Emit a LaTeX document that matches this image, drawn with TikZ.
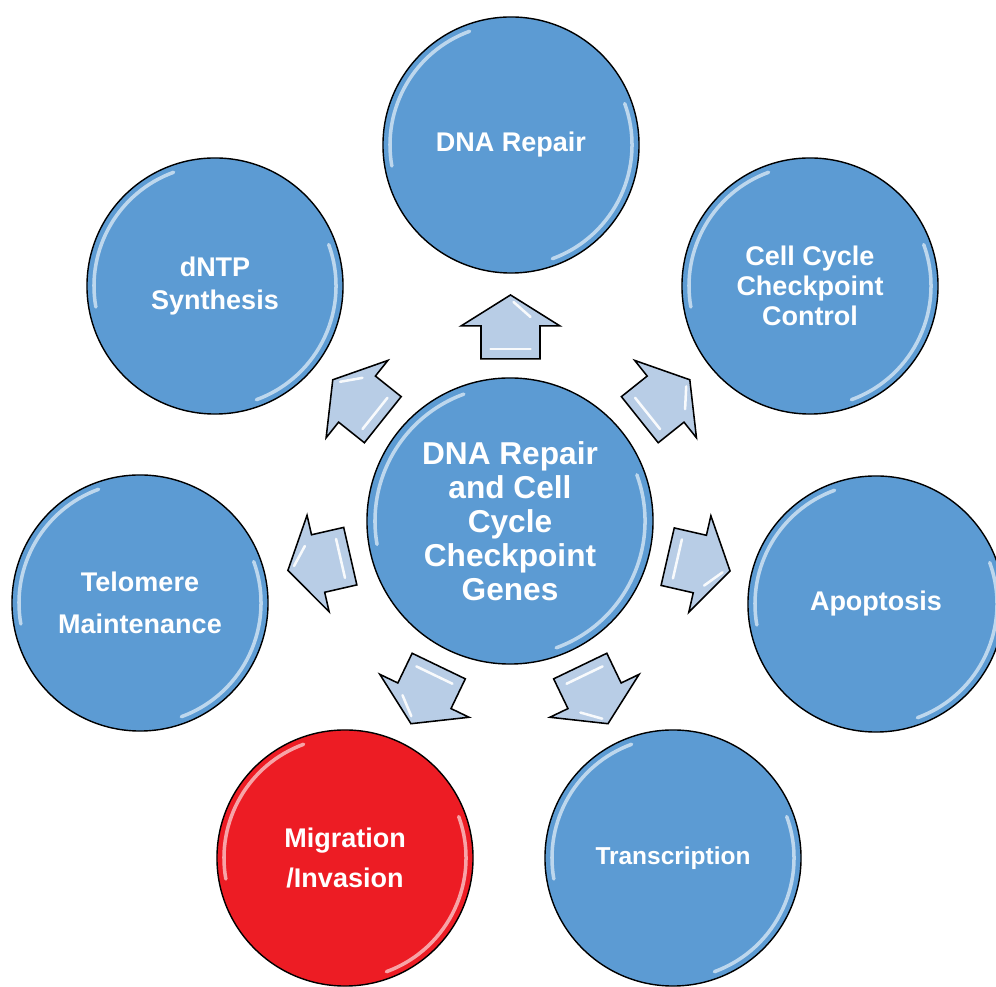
\documentclass[tikz,border=0pt]{standalone}
\usepackage{fontspec}
\setmainfont{Liberation Sans}
\usetikzlibrary{calc}

\definecolor{ballblue}{RGB}{92,155,211}
\definecolor{ballred}{RGB}{237,28,36}
\definecolor{arrowblue}{RGB}{184,205,230}

\tikzset{
  ball/.style={circle, draw=black, line width=1pt, fill=ballblue, text=white,
    font=\bfseries\fontsize{19.2}{22}\selectfont, align=center,
    minimum size=6.4cm, inner sep=0pt},
  hubball/.style={ball, minimum size=7.15cm, font=\bfseries\fontsize{22.5}{24.2}\selectfont},
  shine/.style={white, line width=2.5pt, opacity=0.6, line cap=round},
  bigarrow/.pic={
    \draw[fill=arrowblue, line width=1.1pt, line join=miter]
      (-32,-29.5) -- (1,-29.5) -- (1,-49.5) -- (32,0) -- (1,49.5) -- (1,29.5) -- (-32,29.5) -- cycle;
    \draw[shine, opacity=0.9, line width=1.8pt] (25,-3) -- (10,-20);
    \draw[shine, opacity=0.9, line width=1.8pt] (-22,20) -- (-22,-20);
  }
}

\begin{document}
\begin{tikzpicture}[x=0.025cm, y=0.025cm]
\useasboundingbox (0,0) rectangle (996,987);

\node[hubball] (hub) at (510,466) {DNA Repair\\and Cell\\Cycle\\Checkpoint\\Genes};

\node[ball] (dna) at (511,842) {DNA Repair};
\node[ball, font=\bfseries\fontsize{19.2}{21.3}\selectfont] (cell) at (810,701) {Cell Cycle\\Checkpoint\\Control};
\node[ball] (apop) at (876,383) {Apoptosis};
\node[ball, font=\bfseries\fontsize{17.4}{20}\selectfont] (trans) at (673,129) {Transcription};
\node[ball, fill=ballred, font=\bfseries\fontsize{19.2}{28.5}\selectfont] (migr) at (345,129) {Migration\\/Invasion};
\node[ball, font=\bfseries\fontsize{19.2}{30}\selectfont] (telo) at (140,384) {Telomere\\Maintenance};
\node[ball, font=\bfseries\fontsize{19.2}{22.8}\selectfont] (dntp) at (215,701) {dNTP\\Synthesis};

% highlights on the rims
\draw[shine] ([shift={(-70:135)}]hub.center) arc[start angle=-70, end angle=20, radius=135];
\draw[shine] ([shift={(110:135)}]hub.center) arc[start angle=110, end angle=190, radius=135];
\draw[shine] ([shift={(-70:121)}]dna.center) arc[start angle=-70, end angle=20, radius=121];
\draw[shine] ([shift={(110:121)}]dna.center) arc[start angle=110, end angle=190, radius=121];
\draw[shine] ([shift={(-70:121)}]cell.center) arc[start angle=-70, end angle=20, radius=121];
\draw[shine] ([shift={(110:121)}]cell.center) arc[start angle=110, end angle=190, radius=121];
\draw[shine] ([shift={(-70:121)}]apop.center) arc[start angle=-70, end angle=20, radius=121];
\draw[shine] ([shift={(110:121)}]apop.center) arc[start angle=110, end angle=190, radius=121];
\draw[shine] ([shift={(-70:121)}]trans.center) arc[start angle=-70, end angle=20, radius=121];
\draw[shine] ([shift={(110:121)}]trans.center) arc[start angle=110, end angle=190, radius=121];
\draw[shine] ([shift={(-70:121)}]migr.center) arc[start angle=-70, end angle=20, radius=121];
\draw[shine] ([shift={(110:121)}]migr.center) arc[start angle=110, end angle=190, radius=121];
\draw[shine] ([shift={(-70:121)}]telo.center) arc[start angle=-70, end angle=20, radius=121];
\draw[shine] ([shift={(110:121)}]telo.center) arc[start angle=110, end angle=190, radius=121];
\draw[shine] ([shift={(-70:121)}]dntp.center) arc[start angle=-70, end angle=20, radius=121];
\draw[shine] ([shift={(110:121)}]dntp.center) arc[start angle=110, end angle=190, radius=121];

% block arrows from the hub
\pic[rotate=90] at ($(hub)!0.516!(dna)$) {bigarrow};
\pic[rotate=38.6] at ($(hub)!0.516!(cell)$) {bigarrow};
\pic[rotate=-12.9] at ($(hub)!0.516!(apop)$) {bigarrow};
\pic[rotate=-64.3] at ($(hub)!0.516!(trans)$) {bigarrow};
\pic[rotate=-115.7] at ($(hub)!0.516!(migr)$) {bigarrow};
\pic[rotate=192.9] at ($(hub)!0.516!(telo)$) {bigarrow};
\pic[rotate=141.4] at ($(hub)!0.516!(dntp)$) {bigarrow};
\end{tikzpicture}
\end{document}
